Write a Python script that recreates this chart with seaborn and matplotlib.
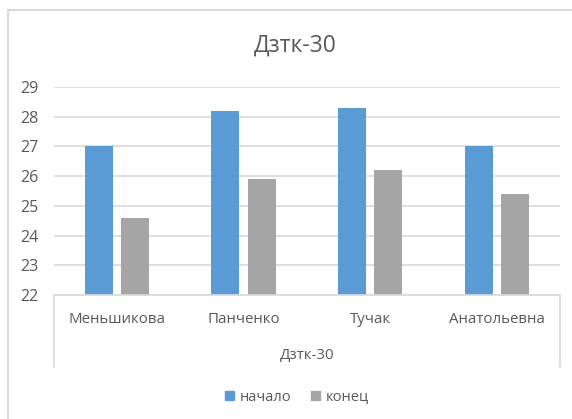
import matplotlib
matplotlib.use("Agg")
import matplotlib.pyplot as plt
from matplotlib.lines import Line2D
from matplotlib.patches import Rectangle
import seaborn as sns
import pandas as pd

categories = ["Меньшикова", "Панченко", "Тучак", "Анатольевна"]
series_names = ["начало", "конец"]
start_values = [27.0, 28.2, 28.3, 27.0]
end_values = [24.6, 25.9, 26.2, 25.4]
title = "Дзтк-30"
group_label = "Дзтк-30"
y_ticks = [22, 23, 24, 25, 26, 27, 28, 29]

colors = ["#5B9BD5", "#A5A5A5"]
text_color = "#595959"
grid_color = "#D9D9D9"

df = pd.DataFrame({
    "cat": categories * 2,
    "series": [series_names[0]] * 4 + [series_names[1]] * 4,
    "value": start_values + end_values,
})

sns.set_theme(style="white")
plt.rcParams["font.family"] = ["Open Sans", "DejaVu Sans"]

W, H = 572, 419
fig = plt.figure(figsize=(W / 100, H / 100), dpi=100)
ax = fig.add_axes([53.5 / W, 1 - 295 / H, (560 - 53.5) / W, (295 - 87) / H])

sns.barplot(data=df, x="cat", y="value", hue="series", palette=colors,
            width=0.572, gap=0.227, ax=ax, legend=False, saturation=1)
# Bars start from 22 baseline
for p in ax.patches:
    h = p.get_height()
    p.set_y(22)
    p.set_height(h - 22)
    p.set_linewidth(0)

ax.set_ylim(22, 29)
ax.set_xlim(-0.5, 3.5)
ax.set_yticks(y_ticks)
ax.set_yticklabels([str(t) for t in y_ticks], color=text_color, fontsize=11.5)
ax.set_xticks([])
ax.set_xlabel("")
ax.set_ylabel("")
ax.tick_params(axis="y", length=0, pad=11)
ax.grid(axis="y", color=grid_color, linewidth=1.2)
ax.set_axisbelow(True)
for s in ["left", "right", "top"]:
    ax.spines[s].set_visible(False)
ax.spines["bottom"].set_color(grid_color)
ax.spines["bottom"].set_linewidth(1.2)

# Category labels
for i, c in enumerate(categories):
    ax.text(i, -0.12, c, transform=ax.get_xaxis_transform(), ha="center", va="center",
            color=text_color, fontsize=10.8)
ax.text(1.5, -0.29, group_label, transform=ax.get_xaxis_transform(), ha="center",
        va="center", color=text_color, fontsize=10.8)

# Multi-level axis box lines
for x in [53.5 / W, 560 / W]:
    fig.add_artist(Line2D([x, x], [1 - 295 / H, 1 - 367 / H], color=grid_color,
                          linewidth=1.2, transform=fig.transFigure))

fig.text(295 / W, 1 - 46 / H, title, ha="center", va="center", color=text_color,
         fontsize=16.5)

handles = [Rectangle((0, 0), 1, 1, color=colors[0]), Rectangle((0, 0), 1, 1, color=colors[1])]
leg = fig.legend(handles, series_names, loc="center", bbox_to_anchor=(297 / W, 1 - 397 / H),
                 ncol=2, frameon=False, handlelength=0.65, handleheight=0.65,
                 handletextpad=0.4, columnspacing=1.3, fontsize=10.5)
for t in leg.get_texts():
    t.set_color(text_color)

# Chart border
fig.add_artist(Line2D([7.5 / W, 7.5 / W], [1 - 10.5 / H, -0.1], color=grid_color,
                      linewidth=1.5, transform=fig.transFigure))
fig.add_artist(Line2D([7.5 / W, 1.1], [1 - 10.5 / H, 1 - 10.5 / H], color=grid_color,
                      linewidth=1.5, transform=fig.transFigure))

fig.savefig("out.png", dpi=100, facecolor="white")
